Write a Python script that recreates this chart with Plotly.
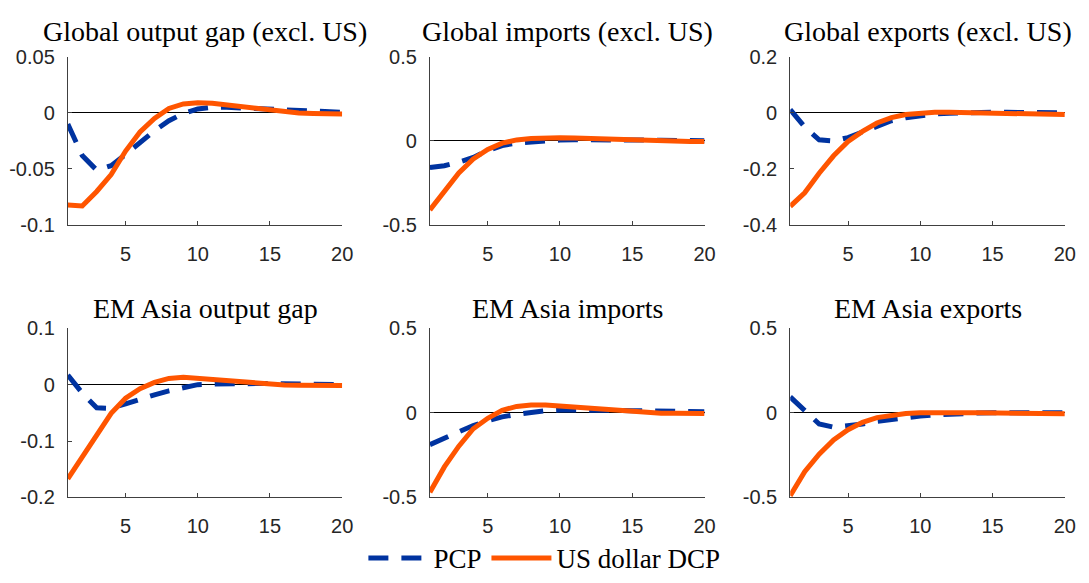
import plotly.graph_objects as go

periods = list(range(1, 21))

titles = [
    "Global output gap (excl. US)",
    "Global imports (excl. US)",
    "Global exports (excl. US)",
    "EM Asia output gap",
    "EM Asia imports",
    "EM Asia exports",
]

# PCP (dashed blue)
pcp_glob_gap = [-0.010, -0.038, -0.051, -0.047, -0.037, -0.026, -0.016, -0.007, -0.0005, 0.0035,
                0.005, 0.005, 0.0045, 0.004, 0.003, 0.0025, 0.002, 0.0015, 0.001, 0.0005]
pcp_glob_imp = [-0.158, -0.147, -0.126, -0.098, -0.057, -0.028, -0.012, -0.004, 0.002, 0.005,
                0.007, 0.008, 0.008, 0.007, 0.006, 0.005, 0.004, 0.003, 0.002, 0.001]
pcp_glob_exp = [0.012, -0.050, -0.096, -0.100, -0.088, -0.068, -0.045, -0.028, -0.017, -0.009,
                -0.004, -0.001, 0.001, 0.002, 0.002, 0.002, 0.002, 0.001, 0.001, 0.0]
pcp_asia_gap = [0.017, -0.015, -0.041, -0.042, -0.034, -0.025, -0.018, -0.011, -0.006, 0.0,
                0.001, 0.002, 0.002, 0.002, 0.002, 0.002, 0.001, 0.001, 0.0005, 0.0]
pcp_asia_imp = [-0.188, -0.150, -0.113, -0.075, -0.047, -0.024, -0.009, 0.004, 0.013, 0.017,
                0.018, 0.018, 0.017, 0.015, 0.013, 0.011, 0.009, 0.008, 0.007, 0.006]
pcp_asia_exp = [0.094, 0.010, -0.066, -0.085, -0.079, -0.066, -0.051, -0.038, -0.028, -0.019,
                -0.012, -0.007, -0.003, -0.001, 0.0, 0.001, 0.001, 0.001, 0.0, 0.0]

# US dollar DCP (solid orange)
dcp_glob_gap = [-0.082, -0.083, -0.070, -0.055, -0.034, -0.017, -0.005, 0.004, 0.008, 0.009,
                0.0085, 0.007, 0.005, 0.0035, 0.002, 0.001, 0.0, -0.0005, -0.001, -0.001]
dcp_glob_imp = [-0.410, -0.295, -0.190, -0.107, -0.050, -0.013, 0.006, 0.015, 0.019, 0.019,
                0.017, 0.014, 0.010, 0.006, 0.003, 0.0, -0.002, -0.003, -0.003, -0.003]
dcp_glob_exp = [-0.333, -0.285, -0.215, -0.153, -0.102, -0.066, -0.036, -0.017, -0.006, 0.0,
                0.002, 0.002, 0.001, 0.0, -0.002, -0.003, -0.004, -0.005, -0.005, -0.006]
dcp_asia_gap = [-0.167, -0.127, -0.088, -0.051, -0.024, -0.007, 0.004, 0.011, 0.013, 0.011,
                0.0085, 0.006, 0.004, 0.002, 0.0005, -0.0005, -0.001, -0.0015, -0.0015, -0.0015]
dcp_asia_imp = [-0.470, -0.320, -0.197, -0.094, -0.032, 0.015, 0.038, 0.047, 0.047, 0.041,
                0.033, 0.025, 0.017, 0.010, 0.005, 0.001, -0.002, -0.003, -0.004, -0.004]
dcp_asia_exp = [-0.490, -0.348, -0.244, -0.160, -0.100, -0.056, -0.028, -0.013, -0.004, 0.0,
                0.002, 0.002, 0.001, 0.0, -0.002, -0.003, -0.004, -0.005, -0.005, -0.005]

pcp_series = [pcp_glob_gap, pcp_glob_imp, pcp_glob_exp, pcp_asia_gap, pcp_asia_imp, pcp_asia_exp]
dcp_series = [dcp_glob_gap, dcp_glob_imp, dcp_glob_exp, dcp_asia_gap, dcp_asia_imp, dcp_asia_exp]

y_ranges = [[-0.1, 0.05], [-0.5, 0.5], [-0.4, 0.2], [-0.2, 0.1], [-0.5, 0.5], [-0.5, 0.5]]
y_tickvals = [
    [-0.1, -0.05, 0, 0.05],
    [-0.5, 0, 0.5],
    [-0.4, -0.2, 0, 0.2],
    [-0.2, -0.1, 0, 0.1],
    [-0.5, 0, 0.5],
    [-0.5, 0, 0.5],
]
y_ticktext = [
    ["-0.1", "-0.05", "0", "0.05"],
    ["-0.5", "0", "0.5"],
    ["-0.4", "-0.2", "0", "0.2"],
    ["-0.2", "-0.1", "0", "0.1"],
    ["-0.5", "0", "0.5"],
    ["-0.5", "0", "0.5"],
]
x_tickvals = [5, 10, 15, 20]
series_names = ["PCP", "US dollar DCP"]

W, H = 1089, 583
col_px = [(68.5, 345.7), (434.3, 711.7), (798.3, 1075.7)]
row_px = [(48.0, 224.5), (332.7, 510.0)]
title_y_px = [22, 312]

BLUE = "#0033A0"
ORANGE = "#FF5500"
AXC = "#404040"
TXT = "#262626"
TICKFONT = dict(family="Liberation Sans, Arial, sans-serif", size=20, color=TXT)
SERIF = "Liberation Serif, Times New Roman, serif"

fig = go.Figure()
layout = dict()
annotations = []

for i in range(6):
    r, c = divmod(i, 3)
    xd = [col_px[c][0] / W, col_px[c][1] / W]
    yd = [1 - row_px[r][1] / H, 1 - row_px[r][0] / H]
    xa = "xaxis" if i == 0 else f"xaxis{i+1}"
    ya = "yaxis" if i == 0 else f"yaxis{i+1}"
    xref = "x" if i == 0 else f"x{i+1}"
    yref = "y" if i == 0 else f"y{i+1}"

    fig.add_trace(go.Scatter(
        x=periods, y=pcp_series[i], mode="lines", name=series_names[0],
        line=dict(color=BLUE, width=5, dash="20px,13px"),
        xaxis=xref, yaxis=yref, showlegend=(i == 0), legendgroup="pcp",
    ))
    fig.add_trace(go.Scatter(
        x=periods, y=dcp_series[i], mode="lines", name=series_names[1],
        line=dict(color=ORANGE, width=5),
        xaxis=xref, yaxis=yref, showlegend=(i == 0), legendgroup="dcp",
    ))

    layout[xa] = dict(
        domain=xd, range=[1, 20], anchor=yref,
        tickvals=x_tickvals, ticktext=[str(v) for v in x_tickvals],
        ticks="inside", ticklen=4, tickcolor=AXC, tickwidth=1,
        showline=True, linecolor=AXC, linewidth=1, mirror=False,
        showgrid=False, zeroline=False,
        tickfont=TICKFONT, ticklabelstandoff=11,
    )
    layout[ya] = dict(
        domain=yd, range=y_ranges[i], anchor=xref,
        tickvals=y_tickvals[i], ticktext=y_ticktext[i],
        ticks="inside", ticklen=4, tickcolor=AXC, tickwidth=1,
        showline=True, linecolor=AXC, linewidth=1, mirror=False,
        showgrid=False, zeroline=True, zerolinecolor="black", zerolinewidth=1,
        tickfont=TICKFONT, ticklabelstandoff=8,
    )
    annotations.append(dict(
        text=titles[i], xref="paper", yref="paper",
        x=(xd[0] + xd[1]) / 2, y=1 - title_y_px[r] / H,
        xanchor="center", yanchor="middle", showarrow=False,
        font=dict(family=SERIF, size=28, color="black"),
    ))

fig.update_layout(
    **layout,
    annotations=annotations,
    width=W, height=H,
    margin=dict(l=0, r=0, t=0, b=0),
    paper_bgcolor="white", plot_bgcolor="white",
    legend=dict(
        orientation="h", x=0.505, xanchor="center", y=1 - 574 / H, yanchor="middle",
        font=dict(family=SERIF, size=27, color="black"),
        bgcolor="rgba(0,0,0,0)", itemwidth=60, tracegroupgap=0,
    ),
    showlegend=True,
)

fig.write_html("out.html", config={"displayModeBar": False},
               post_script="document.body.style.margin='0';")
